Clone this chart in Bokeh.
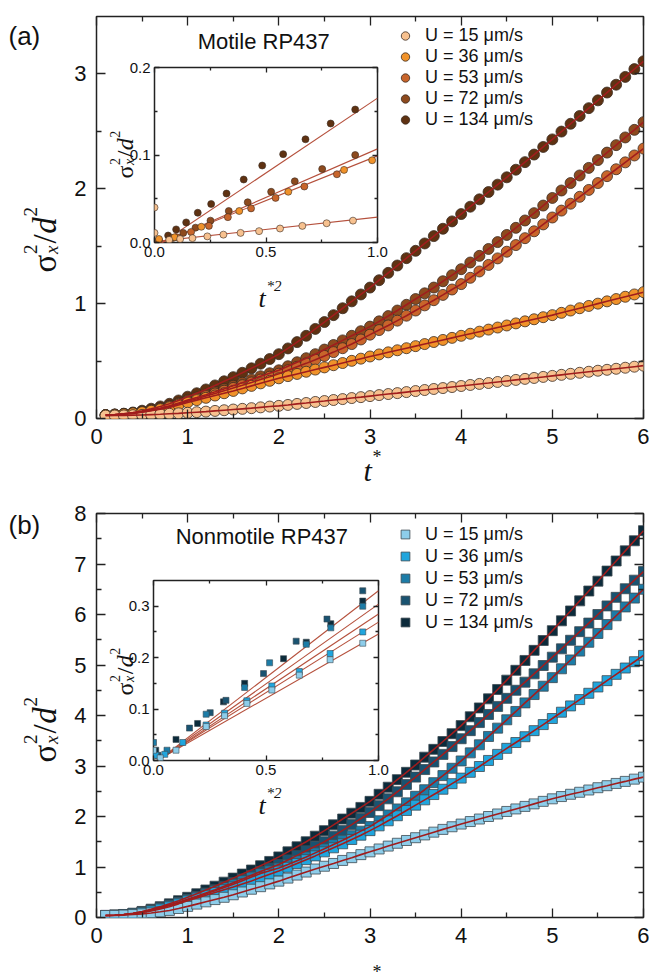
import math
from bokeh.plotting import figure
from bokeh.models import (Range1d, FixedTicker, LinearAxis, Label, Legend,
                          LegendItem, PrintfTickFormatter)
from bokeh.embed import file_html
from bokeh.resources import INLINE

# ---------------- data ----------------
T = [0.1, 0.2, 0.3, 0.4, 0.5, 0.6, 0.7, 0.8, 0.9, 1.0,
     1.1, 1.2, 1.3, 1.4, 1.5, 1.6, 1.7, 1.8, 1.9, 2.0,
     2.1, 2.2, 2.3, 2.4, 2.5, 2.6, 2.7, 2.8, 2.9, 3.0,
     3.1, 3.2, 3.3, 3.4, 3.5, 3.6, 3.7, 3.8, 3.9, 4.0,
     4.1, 4.2, 4.3, 4.4, 4.5, 4.6, 4.7, 4.8, 4.9, 5.0,
     5.1, 5.2, 5.3, 5.4, 5.5, 5.6, 5.7, 5.8, 5.9, 6.0]

LABELS = ["U = 15 μm/s", "U = 36 μm/s", "U = 53 μm/s", "U = 72 μm/s", "U = 134 μm/s"]

# Panel (a): motile
A_U15 = [0.025, 0.026, 0.027, 0.029, 0.031, 0.034, 0.037, 0.041, 0.045, 0.05,
         0.055, 0.06, 0.066, 0.072, 0.078, 0.084, 0.09, 0.097, 0.104, 0.11,
         0.118, 0.127, 0.135, 0.144, 0.152, 0.161, 0.169, 0.178, 0.186, 0.195,
         0.204, 0.213, 0.221, 0.23, 0.239, 0.248, 0.257, 0.265, 0.274, 0.283,
         0.292, 0.301, 0.309, 0.318, 0.327, 0.336, 0.345, 0.353, 0.362, 0.371,
         0.38, 0.389, 0.398, 0.407, 0.416, 0.424, 0.433, 0.442, 0.451, 0.46]
A_U36 = [0.03, 0.033, 0.038, 0.045, 0.055, 0.067, 0.081, 0.097, 0.118, 0.14,
         0.16, 0.18, 0.20, 0.22, 0.24, 0.262, 0.284, 0.306, 0.328, 0.35,
         0.369, 0.388, 0.407, 0.426, 0.445, 0.464, 0.483, 0.502, 0.521, 0.54,
         0.558, 0.576, 0.594, 0.612, 0.63, 0.648, 0.666, 0.684, 0.702, 0.72,
         0.738, 0.756, 0.774, 0.792, 0.81, 0.828, 0.846, 0.864, 0.882, 0.90,
         0.92, 0.94, 0.96, 0.98, 1.00, 1.02, 1.04, 1.06, 1.08, 1.10]
A_U53 = [0.03, 0.033, 0.039, 0.047, 0.058, 0.071, 0.087, 0.105, 0.127, 0.15,
         0.172, 0.195, 0.218, 0.242, 0.266, 0.29, 0.314, 0.339, 0.364, 0.39,
         0.42, 0.45, 0.48, 0.512, 0.545, 0.578, 0.612, 0.648, 0.688, 0.73,
         0.77, 0.81, 0.852, 0.895, 0.94, 0.985, 1.03, 1.076, 1.123, 1.17,
         1.225, 1.28, 1.337, 1.394, 1.452, 1.51, 1.57, 1.63, 1.69, 1.75,
         1.81, 1.87, 1.93, 1.99, 2.05, 2.11, 2.17, 2.23, 2.29, 2.35]
A_U72 = [0.03, 0.033, 0.04, 0.048, 0.06, 0.074, 0.09, 0.11, 0.134, 0.16,
         0.183, 0.207, 0.232, 0.258, 0.285, 0.312, 0.34, 0.368, 0.394, 0.42,
         0.455, 0.49, 0.525, 0.56, 0.60, 0.64, 0.68, 0.72, 0.76, 0.80,
         0.846, 0.892, 0.94, 0.99, 1.04, 1.09, 1.14, 1.195, 1.248, 1.30,
         1.358, 1.416, 1.476, 1.536, 1.598, 1.66, 1.724, 1.788, 1.854, 1.92,
         1.985, 2.05, 2.116, 2.182, 2.25, 2.315, 2.38, 2.447, 2.513, 2.58]
A_U134 = [0.03, 0.035, 0.042, 0.052, 0.068, 0.085, 0.105, 0.128, 0.157, 0.19,
          0.22, 0.253, 0.288, 0.324, 0.36, 0.398, 0.437, 0.477, 0.518, 0.56,
          0.61, 0.665, 0.72, 0.78, 0.84, 0.90, 0.96, 1.02, 1.08, 1.14,
          1.204, 1.268, 1.332, 1.396, 1.46, 1.524, 1.588, 1.652, 1.716, 1.78,
          1.844, 1.908, 1.972, 2.036, 2.10, 2.166, 2.232, 2.298, 2.364, 2.43,
          2.498, 2.566, 2.634, 2.702, 2.77, 2.838, 2.906, 2.974, 3.042, 3.11]

# Panel (b): nonmotile
B_U15 = [0.04, 0.042, 0.048, 0.058, 0.072, 0.09, 0.113, 0.14, 0.178, 0.22,
         0.265, 0.31, 0.355, 0.40, 0.45, 0.505, 0.56, 0.61, 0.665, 0.72,
         0.78, 0.84, 0.90, 0.96, 1.015, 1.07, 1.13, 1.185, 1.245, 1.30,
         1.357, 1.414, 1.47, 1.525, 1.58, 1.635, 1.69, 1.745, 1.797, 1.85,
         1.90, 1.95, 2.00, 2.05, 2.10, 2.15, 2.20, 2.25, 2.30, 2.35,
         2.395, 2.44, 2.48, 2.525, 2.57, 2.61, 2.655, 2.695, 2.74, 2.78]
B_U36 = [0.04, 0.044, 0.055, 0.073, 0.098, 0.13, 0.168, 0.212, 0.27, 0.33,
         0.385, 0.44, 0.495, 0.55, 0.605, 0.665, 0.725, 0.79, 0.855, 0.92,
         0.995, 1.07, 1.145, 1.22, 1.30, 1.38, 1.46, 1.545, 1.63, 1.72,
         1.815, 1.915, 2.015, 2.12, 2.225, 2.33, 2.435, 2.54, 2.65, 2.76,
         2.875, 2.99, 3.11, 3.23, 3.35, 3.465, 3.58, 3.70, 3.82, 3.94,
         4.065, 4.19, 4.315, 4.44, 4.565, 4.69, 4.815, 4.94, 5.065, 5.19]
B_U53 = [0.04, 0.045, 0.057, 0.078, 0.106, 0.143, 0.187, 0.237, 0.292, 0.35,
         0.408, 0.468, 0.53, 0.594, 0.66, 0.73, 0.80, 0.87, 0.925, 0.98,
         1.05, 1.125, 1.20, 1.28, 1.36, 1.445, 1.53, 1.62, 1.71, 1.80,
         1.915, 2.03, 2.15, 2.27, 2.40, 2.53, 2.67, 2.81, 2.955, 3.10,
         3.26, 3.42, 3.585, 3.75, 3.915, 4.08, 4.25, 4.415, 4.58, 4.75,
         4.925, 5.10, 5.275, 5.45, 5.625, 5.80, 5.975, 6.15, 6.325, 6.50]
B_U72 = [0.04, 0.045, 0.058, 0.08, 0.11, 0.15, 0.195, 0.245, 0.30, 0.36,
         0.42, 0.485, 0.55, 0.62, 0.69, 0.76, 0.835, 0.91, 0.98, 1.05,
         1.14, 1.23, 1.32, 1.41, 1.50, 1.61, 1.725, 1.84, 1.96, 2.08,
         2.215, 2.35, 2.49, 2.635, 2.78, 2.93, 3.08, 3.23, 3.385, 3.54,
         3.70, 3.86, 4.02, 4.18, 4.34, 4.50, 4.66, 4.825, 4.99, 5.155,
         5.32, 5.49, 5.66, 5.83, 6.0, 6.17, 6.34, 6.51, 6.68, 6.85]
B_U134 = [0.04, 0.045, 0.06, 0.085, 0.12, 0.165, 0.215, 0.27, 0.333, 0.40,
          0.47, 0.545, 0.62, 0.70, 0.78, 0.86, 0.94, 1.025, 1.11, 1.20,
          1.30, 1.40, 1.50, 1.61, 1.72, 1.835, 1.95, 2.065, 2.18, 2.30,
          2.44, 2.58, 2.73, 2.875, 3.02, 3.175, 3.33, 3.485, 3.64, 3.80,
          3.975, 4.15, 4.33, 4.515, 4.70, 4.895, 5.09, 5.29, 5.485, 5.68,
          5.875, 6.07, 6.27, 6.465, 6.66, 6.86, 7.06, 7.26, 7.46, 7.66]

# Inset (a): sigma^2 vs t*^2
IA_X = {
    "15": [0.0, 0.0, 0.066, 0.115, 0.170, 0.237, 0.309, 0.386, 0.469, 0.563, 0.663, 0.772, 0.89],
    "36": [0.02, 0.09, 0.21, 0.38, 0.60, 0.85, 0.976],
    "53": [0.101, 0.164, 0.244, 0.329, 0.433, 0.543, 0.672, 0.818],
    "72": [0.079, 0.129, 0.184, 0.251, 0.333, 0.418, 0.523, 0.629, 0.752, 0.90],
    "134": [0.02, 0.061, 0.097, 0.142, 0.194, 0.254, 0.323, 0.40, 0.483, 0.577, 0.677, 0.79, 0.90],
}
IA_Y = {
    "15": [0.040, 0.011, 0.003, 0.004, 0.005, 0.007, 0.009, 0.011, 0.013, 0.016, 0.019, 0.022, 0.025],
    "36": [0.004, 0.006, 0.018, 0.036, 0.058, 0.083, 0.094],
    "53": [0.006, 0.012, 0.019, 0.029, 0.039, 0.051, 0.064, 0.078],
    "72": [0.005, 0.011, 0.017, 0.025, 0.036, 0.046, 0.058, 0.070, 0.084, 0.100],
    "134": [0.003, 0.008, 0.015, 0.023, 0.034, 0.044, 0.056, 0.072, 0.088, 0.101, 0.118, 0.136, 0.152],
}
IA_FIT_X = [0.0, 1.0]
IA_FIT = [[0.001, 0.029], [-0.003, 0.099], [-0.004, 0.107], [-0.006, 0.165]]

# Inset (b)
IB_X = {
    "15": [0.0, 0.03, 0.10, 0.234, 0.316, 0.415, 0.526, 0.648, 0.785, 0.93],
    "36": [0.01, 0.05, 0.13, 0.234, 0.316, 0.415, 0.526, 0.648, 0.785, 0.93],
    "53": [0.0, 0.06, 0.234, 0.405, 0.516, 0.679, 0.788, 0.93],
    "72": [0.02, 0.16, 0.252, 0.322, 0.489, 0.634, 0.771, 0.93],
    "134": [0.01, 0.10, 0.196, 0.311, 0.405, 0.578, 0.679, 0.788, 0.93],
}
IB_Y = {
    "15": [0.02, 0.005, 0.02, 0.066, 0.087, 0.111, 0.137, 0.166, 0.196, 0.228],
    "36": [0.01, 0.012, 0.035, 0.069, 0.092, 0.116, 0.145, 0.173, 0.208, 0.25],
    "53": [0.035, 0.02, 0.090, 0.142, 0.190, 0.226, 0.258, 0.30],
    "72": [0.01, 0.063, 0.093, 0.117, 0.169, 0.232, 0.275, 0.33],
    "134": [0.02, 0.041, 0.072, 0.114, 0.150, 0.198, 0.230, 0.266, 0.31],
}
IB_FIT_X = [0.0, 1.0]
IB_FIT = [[-0.004, 0.246], [-0.005, 0.269], [-0.006, 0.285], [-0.006, 0.304], [-0.007, 0.330]]

A_COLORS = ["#f7c18f", "#f0922a", "#c8652b", "#8d4a1e", "#5f3212"]
B_COLORS = ["#8dcdea", "#20a5dd", "#1c7ca7", "#195371", "#0c2b3b"]
RED = "#a01d1d"
FITRED = "#b5503c"
SANS = "Liberation Sans"
SERIF = "Liberation Serif"
KEYS = ["15", "36", "53", "72", "134"]

W, H = 649, 488   # size of each panel cell


# ---------------- helpers ----------------
def style_axis(ax, ticks, minor, size, tin, minin, show=True, fmt=None, standoff=10):
    ax.ticker = FixedTicker(ticks=ticks, minor_ticks=minor)
    ax.axis_line_color = None
    ax.major_tick_in = tin
    ax.major_tick_out = 0
    ax.minor_tick_in = minin
    ax.minor_tick_out = 0
    ax.major_tick_line_color = "#222222"
    ax.minor_tick_line_color = "#222222"
    ax.major_tick_line_width = 1.3
    ax.minor_tick_line_width = 1.3
    ax.major_label_text_font = SANS
    ax.major_label_text_color = "#111111"
    if fmt:
        ax.formatter = PrintfTickFormatter(format=fmt)
    if show:
        ax.major_label_text_font_size = size
        ax.major_label_standoff = standoff
    else:
        ax.major_label_overrides = {t: "" for t in ticks}
        ax.major_label_text_font_size = "1px"
        ax.major_label_standoff = 0


def setup_axes(p, xt, xm, yt, ym, size, tin, minin, fmt=None, standoff=10):
    style_axis(p.xaxis[0], xt, xm, size, tin, minin, True, fmt, standoff)
    style_axis(p.yaxis[0], yt, ym, size, tin, minin, True, fmt, standoff)
    top = LinearAxis()
    right = LinearAxis()
    style_axis(top, xt, xm, size, tin, minin, False)
    style_axis(right, yt, ym, size, tin, minin, False)
    p.add_layout(top, "above")
    p.add_layout(right, "right")


def make_fig(xr, yr, bl, br, bt, bb, transparent=False):
    p = figure(width=W, height=H, x_range=Range1d(*xr), y_range=Range1d(*yr),
               output_backend="svg", toolbar_location=None,
               min_border_left=bl, min_border_right=br,
               min_border_top=bt, min_border_bottom=bb)
    p.grid.visible = False
    p.outline_line_color = "#222222"
    p.outline_line_width = 1.5
    p.background_fill_color = "white"
    if transparent:
        p.border_fill_alpha = 0.0
    else:
        p.border_fill_color = "white"
    return p


# overlay figure holding all texts that lie outside the plot frames
ov = figure(width=W, height=2 * H, x_range=Range1d(0, W), y_range=Range1d(2 * H, 0),
            output_backend="svg", toolbar_location=None, min_border=0,
            x_axis_location=None, y_axis_location=None, title=None)
ov.grid.visible = False
ov.outline_line_color = None
ov.background_fill_alpha = 0.0
ov.border_fill_alpha = 0.0


def lab(px, py, text, size, font=SANS, style="normal", align="left", angle=0.0):
    ov.add_layout(Label(x=px, y=py, text=text, text_font=font, text_font_style=style,
                        text_font_size=f"{size}px", text_align=align,
                        text_baseline="alphabetic", angle=angle, text_color="#111111"))


def ylabel(bx, by, big, small, sub_off, sup_off):
    # rotated label  sigma_x^2 / d^2 , reading bottom to top
    a = math.pi / 2
    w_sigma = 0.56 * big
    lab(bx, by, "σ", big, SERIF, "normal", angle=a)
    lab(bx + sub_off, by - w_sigma, "x", small, SERIF, "italic", angle=a)
    lab(bx - sup_off, by - w_sigma, "2", small, SERIF, "normal", angle=a)
    pos = by - w_sigma - 0.55 * small
    lab(bx, pos, "/", big, SERIF, "normal", angle=a)
    pos -= 0.30 * big
    lab(bx, pos, "d", big, SERIF, "italic", angle=a)
    pos -= 0.52 * big
    lab(bx - sup_off, pos, "2", small, SERIF, "normal", angle=a)


def leg_style(leg, lh):
    leg.border_line_color = None
    leg.background_fill_alpha = 0.0
    leg.padding = 0
    leg.margin = 0
    leg.spacing = 0
    leg.glyph_width = 22
    leg.glyph_height = lh
    leg.label_height = lh
    leg.label_standoff = 9
    leg.label_text_font = SANS
    leg.label_text_font_size = "18px"
    leg.label_text_color = "#111111"


# ---------------- panel (a) ----------------
# frame: x 96..643, y 16..418
pa = make_fig((0, 6), (0, 3.5), 96, 6, 16, 70)
setup_axes(pa, [0, 1, 2, 3, 4, 5, 6], [0.5, 1.5, 2.5, 3.5, 4.5, 5.5],
           [0, 1, 2, 3], [0.5, 1.5, 2.5], "22px", 9, 5)
a_series = [A_U15, A_U36, A_U53, A_U72, A_U134]
a_rend = [None] * 5
for i in [4, 3, 2, 1, 0]:
    a_rend[i] = pa.scatter(T, a_series[i], marker="circle", size=11,
                           fill_color=A_COLORS[i], line_color="#3a2c22", line_width=0.8)
for i in [4, 3, 2, 1, 0]:
    pa.line(T, a_series[i], line_color=RED, line_width=1.6)
leg_a = Legend(items=[LegendItem(label=LABELS[i], renderers=[a_rend[i]]) for i in range(5)],
               location=(298, 288))
leg_style(leg_a, 21)
pa.add_layout(leg_a)
pa.add_layout(Label(x=1.11, y=3.17, text="Motile RP437", text_font=SANS,
                    text_font_size="22px", text_color="#111111"))

# inset (a): frame x 154..377, y 67..242
ia = make_fig((0, 1), (0, 0.2), 154, W - 377, 67, H - 242, transparent=True)
setup_axes(ia, [0, 0.5, 1.0], [0.25, 0.75], [0, 0.1, 0.2], [0.05, 0.15],
           "15px", 5, 3, fmt="%.1f", standoff=4)
for fit in IA_FIT:
    ia.line(IA_FIT_X, fit, line_color=FITRED, line_width=1.1)
for i in [4, 3, 2, 1, 0]:
    ia.scatter(IA_X[KEYS[i]], IA_Y[KEYS[i]], marker="circle", size=7,
               fill_color=A_COLORS[i], line_color="#3a2c22", line_width=0.6)

# ---------------- panel (b) ----------------
# frame: x 96..643, y 513..917 (page) -> 25..429 in its cell
pb = make_fig((0, 6), (0, 8), 96, 6, 25, H - 429)
setup_axes(pb, [0, 1, 2, 3, 4, 5, 6], [0.5, 1.5, 2.5, 3.5, 4.5, 5.5],
           [0, 1, 2, 3, 4, 5, 6, 7, 8], [0.5, 1.5, 2.5, 3.5, 4.5, 5.5, 6.5, 7.5],
           "22px", 9, 5)
b_series = [B_U15, B_U36, B_U53, B_U72, B_U134]
b_rend = [None] * 5
for i in [4, 3, 2, 1, 0]:
    b_rend[i] = pb.scatter(T, b_series[i], marker="square", size=10,
                           fill_color=B_COLORS[i], line_color="#3d4a52", line_width=0.8)
for i in [4, 3, 2, 1, 0]:
    pb.line(T, b_series[i], line_color=RED, line_width=1.6)
leg_b = Legend(items=[LegendItem(label=LABELS[i], renderers=[b_rend[i]]) for i in range(5)],
               location=(298, 284))
leg_style(leg_b, 22)
pb.add_layout(leg_b)
pb.add_layout(Label(x=0.868, y=7.29, text="Nonmotile RP437", text_font=SANS,
                    text_font_size="22px", text_color="#111111"))

# inset (b): frame x 153..378, y 580..760 (page) -> 92..272 in its cell
ib = make_fig((0, 1), (0, 0.35), 153, W - 378, 92, H - 272, transparent=True)
setup_axes(ib, [0, 0.5, 1.0], [0.25, 0.75], [0, 0.1, 0.2, 0.3], [0.05, 0.15, 0.25],
           "15px", 5, 3, fmt="%.1f", standoff=4)
for fit in IB_FIT:
    ib.line(IB_FIT_X, fit, line_color=FITRED, line_width=1.1)
for i in [4, 3, 2, 1, 0]:
    ib.scatter(IB_X[KEYS[i]], IB_Y[KEYS[i]], marker="square", size=6,
               fill_color=B_COLORS[i], line_color="#3d4a52", line_width=0.6)

# ---------------- texts outside the frames (page pixel positions) ----------------
lab(8, 35, "(a)", 26)
lab(8, 524, "(b)", 26)
lab(363, 470, "t", 30, SERIF, "italic")
lab(372, 456, "*", 18, SERIF, "normal")
lab(363, 985, "t", 30, SERIF, "italic")
lab(372, 971, "*", 18, SERIF, "normal")
ylabel(44, 272, 33, 19, 7, 14)
ylabel(44, 762, 33, 19, 7, 14)
lab(258, 298, "t", 26, SERIF, "italic")
lab(266, 285, "*2", 15, SERIF, "italic")
lab(258, 805, "t", 26, SERIF, "italic")
lab(266, 792, "*2", 15, SERIF, "italic")
ylabel(124, 178, 24, 14, 5, 10)
ylabel(124, 695, 24, 14, 5, 10)

# independent roots (no frame alignment between them), stacked with absolute positions
pa.styles = {"position": "absolute", "left": "0px", "top": "0px"}
pb.styles = {"position": "absolute", "left": "0px", "top": f"{H}px"}
ia.styles = {"position": "absolute", "left": "0px", "top": "0px"}
ib.styles = {"position": "absolute", "left": "0px", "top": f"{H}px"}
ov.styles = {"position": "absolute", "left": "0px", "top": "0px"}

open("out.html", "w").write(file_html([pa, pb, ia, ib, ov], INLINE))
